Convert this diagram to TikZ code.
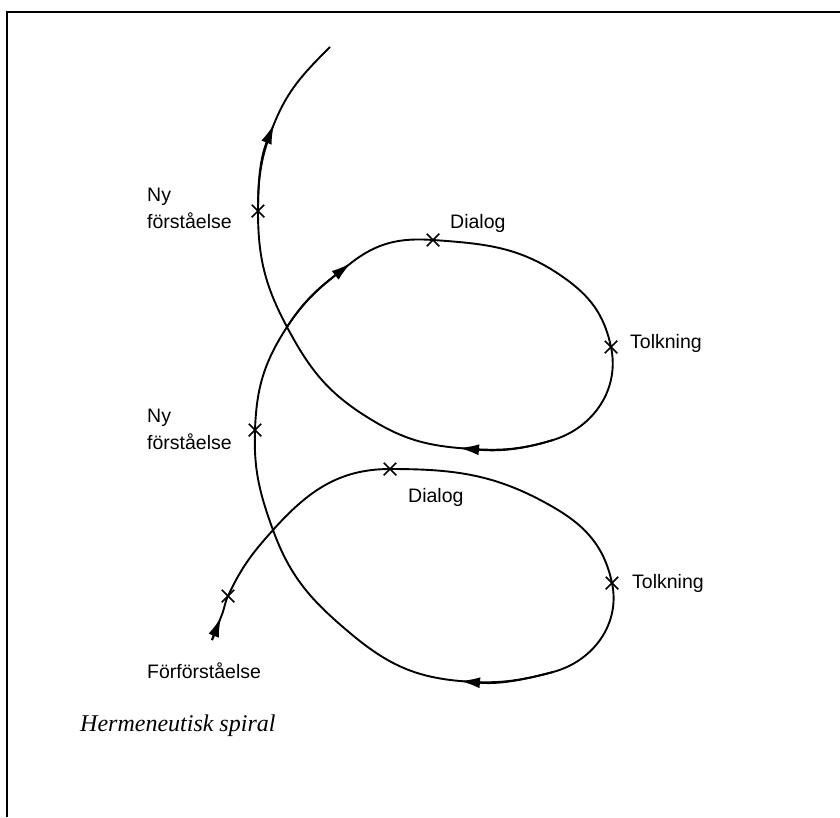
\documentclass[tikz,border=0pt]{standalone}
\usepackage{fontspec}
\setmainfont{Liberation Serif}
\setsansfont{Liberation Sans}
\usetikzlibrary{arrows.meta,shapes.misc}

\begin{document}
\begin{tikzpicture}[x=1pt,y=1pt,
  lbl/.style={font=\sffamily\fontsize{19.5}{27}\selectfont, inner sep=0pt, align=left},
  xmark/.style={cross out, draw, line width=1.5pt, minimum size=11pt, inner sep=0pt},
  spiral/.style={line width=1.9pt},
  tip/.style={-{Latex[length=20pt,width=11pt]}},
]
\useasboundingbox (0,0) rectangle (840,-817);

% frame
\draw[line width=2pt] (7,-817) -- (7,-12) -- (840,-12);

% points along the spiral
\coordinate (s0) at (212,-640);
\coordinate (a0) at (221,-617);
\coordinate (m0) at (228,-596);
\coordinate (k1) at (273,-530);
\coordinate (d1) at (390,-469);
\coordinate (q1) at (553,-507);
\coordinate (t1) at (612,-583);
\coordinate (b1) at (553,-672);
\coordinate (a1) at (460,-681);
\coordinate (p1) at (350,-633);
\coordinate (n1) at (255,-430);
\coordinate (k2) at (287,-327);
\coordinate (a2) at (351,-263);
\coordinate (d2) at (433,-240);
\coordinate (q2) at (563,-277);
\coordinate (t2) at (611,-347);
\coordinate (b2) at (553,-440);
\coordinate (a3) at (459,-448);
\coordinate (p2) at (367,-417);
\coordinate (n2) at (258,-211);
\coordinate (a4) at (274,-124);
\coordinate (e)  at (330,-47);

% the spiral as one unbroken line
\draw[spiral] (s0) -- (a0) to[out=66,in=245] (m0) to[out=65,in=228] (k1)
  to[out=48,in=180] (d1) to[out=0,in=150] (q1)
  to[out=-30,in=102] (t1) to[out=-78,in=15] (b1)
  to[out=195,in=-5] (a1)
  to[out=175,in=-40] (p1) to[out=140,in=-70] (k1)
  to[out=110,in=-92] (n1) to[out=88,in=-123] (k2)
  to[out=57,in=-142] (a2)
  to[out=38,in=176] (d2) to[out=-4,in=145] (q2)
  to[out=-35,in=102] (t2) to[out=-78,in=17] (b2)
  to[out=197,in=-5] (a3)
  to[out=175,in=-32] (p2) to[out=148,in=-62] (k2)
  to[out=118,in=-90] (n2)
  to[out=90,in=-112] (a4)
  to[out=68,in=-135] (e);

% arrowheads showing the direction of travel
\draw[spiral,tip] (s0) -- (a0);
\draw[spiral,tip] (b1) to[out=195,in=-5] (a1);
\draw[spiral,tip] (k2) to[out=57,in=-142] (a2);
\draw[spiral,tip] (b2) to[out=197,in=-5] (a3);
\draw[spiral,tip] (n2) to[out=90,in=-112] (a4);

% marks
\foreach \p in {m0,d1,t1,n1,d2,t2,n2}
  \node[xmark] (x\p) at (\p) {};

% labels (base anchor sits on the last line)
\node[lbl, anchor=base west] (ny2) at (147,-228) {Ny\\förståelse};
\node[lbl, anchor=base west] (ny1) at (147,-449) {Ny\\förståelse};
\node[lbl, anchor=base west] (dl2) at (450,-228) {Dialog};
\node[lbl, anchor=base west] (dl1) at (408,-502) {Dialog};
\node[lbl, anchor=base west] (tk2) at (630,-348) {Tolkning};
\node[lbl, anchor=base west] (tk1) at (632,-588) {Tolkning};
\node[lbl, anchor=base west] (ff)  at (147,-678) {Förförståelse};
\node[font=\itshape\fontsize{24}{28}\selectfont, inner sep=0pt, anchor=base west]
  (cap) at (80,-731) {Hermeneutisk spiral};
\end{tikzpicture}
\end{document}
